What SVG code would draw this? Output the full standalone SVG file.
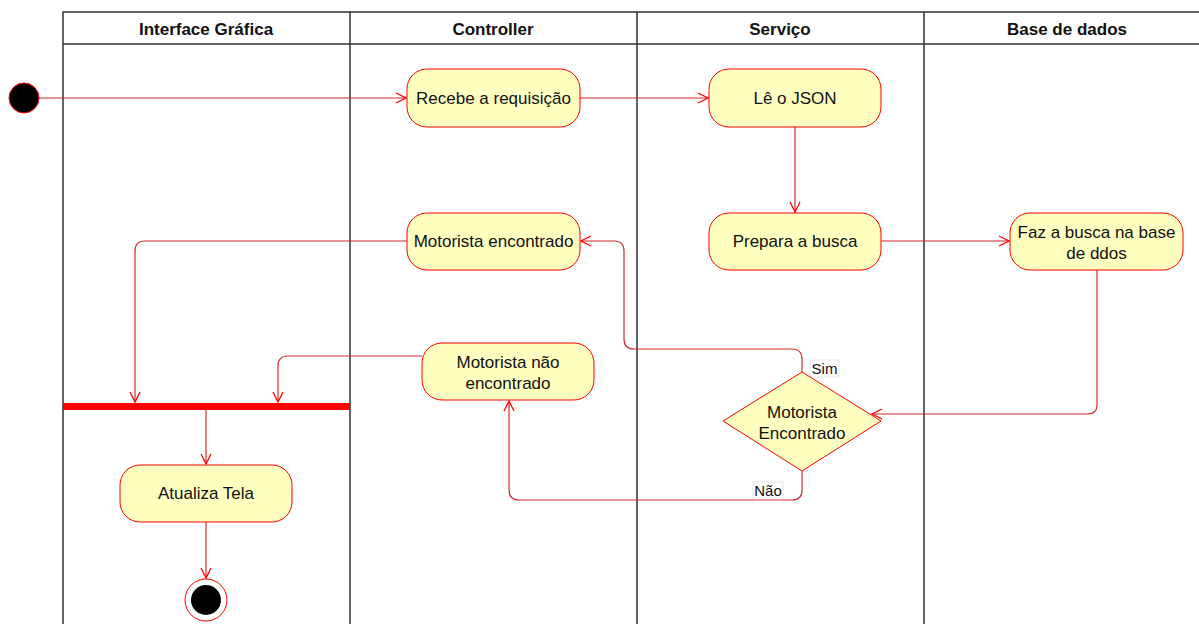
<svg xmlns="http://www.w3.org/2000/svg" width="1199" height="624" viewBox="0 0 1199 624">
<defs>
<style>
.lane{fill:none;stroke:#333;stroke-width:1.5}
.hdr{font-family:"Liberation Sans",Arial,sans-serif;font-size:17px;font-weight:bold;fill:#111;text-anchor:middle}
.act{fill:#ffffc0;stroke:#ff0000;stroke-width:1}
.t{font-family:"Liberation Sans",Arial,sans-serif;font-size:17px;fill:#111;text-anchor:middle}
.lbl{font-family:"Liberation Sans",Arial,sans-serif;font-size:15px;fill:#111;text-anchor:middle}
.e{fill:none;stroke:#d42a2a;stroke-width:1.2}
</style>
<marker id="arr" viewBox="0 0 12 12" refX="11" refY="6" markerWidth="12" markerHeight="12" markerUnits="userSpaceOnUse" orient="auto">
<path d="M1,1 L11,6 L1,11" fill="none" stroke="#ff0000" stroke-width="1.3"/>
</marker>
</defs>
<rect width="1199" height="624" fill="#ffffff"/>
<g id="lanes">
<path class="lane" d="M63,624 V12 H1211 M63,44 H1211 M350,12 V624 M637,12 V624 M924,12 V624"/>
<text class="hdr" x="206" y="35">Interface Gráfica</text>
<text class="hdr" x="493" y="35">Controller</text>
<text class="hdr" x="780" y="35">Serviço</text>
<text class="hdr" x="1067" y="35">Base de dados</text>
</g>
<g id="connectors">
<path class="e" d="M39,98 H406" marker-end="url(#arr)"/>
<path class="e" d="M580,98 H708" marker-end="url(#arr)"/>
<path class="e" d="M795,127 V212" marker-end="url(#arr)"/>
<path class="e" d="M881,241 H1009" marker-end="url(#arr)"/>
<path class="e" d="M1097,270 V405 Q1097,414 1088,414 H872" marker-end="url(#arr)"/>
<path class="e" d="M802,372 V359 Q802,349 792,349 H634 Q624,349 624,339 V251 Q624,241 614,241 H581" marker-end="url(#arr)"/>
<path class="e" d="M802,471 V490 Q802,500 792,500 H519 Q509,500 509,490 V401" marker-end="url(#arr)"/>
<path class="e" d="M407,241 H145 Q135,241 135,251 V402" marker-end="url(#arr)"/>
<path class="e" d="M422,356 H288 Q278,356 278,366 V402" marker-end="url(#arr)"/>
<path class="e" d="M206,410 V464" marker-end="url(#arr)"/>
<path class="e" d="M206,522 V578" marker-end="url(#arr)"/>
<rect x="810" y="360" width="29" height="17" fill="#fff" stroke="#ccc" stroke-width="0.5"/>
<text class="lbl" x="824.5" y="374">Sim</text>
<rect x="753" y="482" width="30" height="17" fill="#fff" stroke="#ccc" stroke-width="0.5"/>
<text class="lbl" x="768" y="496">Não</text>
</g>
<g id="start"><circle cx="24" cy="98" r="15" fill="#000" stroke="#ff0000" stroke-width="1"/></g>
<g id="recebe"><rect class="act" x="407" y="69" width="173" height="58" rx="20"/><text class="t" x="493.5" y="104">Recebe a requisição</text></g>
<g id="le-json"><rect class="act" x="709" y="69" width="172" height="58" rx="20"/><text class="t" x="795" y="104">Lê o JSON</text></g>
<g id="prepara"><rect class="act" x="709" y="213" width="172" height="57" rx="20"/><text class="t" x="795" y="247">Prepara a busca</text></g>
<g id="faz-busca"><rect class="act" x="1010" y="213" width="173" height="57" rx="20"/><text class="t" x="1096.5" y="238">Faz a busca na base</text><text class="t" x="1096.5" y="259">de ddos</text></g>
<g id="encontrado"><rect class="act" x="407" y="213" width="173" height="57" rx="20"/><text class="t" x="493.5" y="247">Motorista encontrado</text></g>
<g id="nao-encontrado"><rect class="act" x="422" y="343" width="172" height="57" rx="20"/><text class="t" x="508" y="368">Motorista não</text><text class="t" x="508" y="389">encontrado</text></g>
<g id="decisao"><polygon class="act" points="802,372 881,421 802,471 723,421"/><text class="t" x="802" y="418">Motorista</text><text class="t" x="802" y="439">Encontrado</text></g>
<g id="fork"><rect x="63" y="403" width="287" height="7" fill="#ff0000"/></g>
<g id="atualiza"><rect class="act" x="120" y="465" width="172" height="57" rx="20"/><text class="t" x="206" y="499">Atualiza Tela</text></g>
<g id="end"><circle cx="206" cy="600" r="21" fill="#fff" stroke="#ff0000" stroke-width="1"/><circle cx="206" cy="600" r="15" fill="#000"/></g>
</svg>
